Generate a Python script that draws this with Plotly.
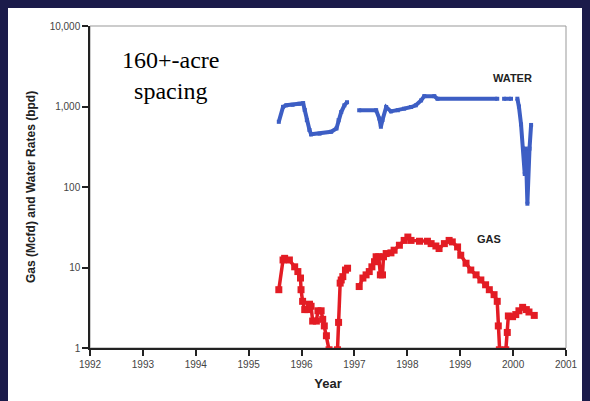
import plotly.graph_objects as go

# -------------------------------------------------
# Data
# -------------------------------------------------
WATER_YEAR = [
    1995.57, 1995.65, 1995.71, 1995.83, 1995.96, 1996.03, 1996.06, 1996.10,
    1996.15, 1996.18, 1996.34, 1996.56, 1996.66, 1996.70, 1996.75, 1996.81,
    1996.86, None,
    1997.09, 1997.41, 1997.47, 1997.50, 1997.53, 1997.60, 1997.69, 1997.82,
    1997.94, 1998.07, 1998.16, 1998.26, 1998.32, 1998.51, 1998.57, 1999.70,
    None,
    1999.83, 1999.96, None,
    2000.08, 2000.11, 2000.15, 2000.19, 2000.22, 2000.24, 2000.27, 2000.31,
    2000.34,
]
WATER_RATE = [
    645, 990, 1035, 1050, 1080, 1100, 905, 676,
    510, 451, 460, 486, 533, 676, 853, 1035,
    1130, None,
    898, 898, 710, 560, 680, 985, 870, 898,
    940, 985, 1035, 1190, 1345, 1345, 1247, 1247,
    None,
    1247, 1247, None,
    1250, 1000, 600, 300, 145, 300, 62, 300,
    590,
]

GAS_YEAR = [
    1995.57, 1995.65, 1995.68, 1995.77, 1995.87, 1995.93, 1995.98, 1995.99,
    1996.02, 1996.06, 1996.12, 1996.15, 1996.18, 1996.21, 1996.28, 1996.31,
    1996.37, 1996.40, 1996.43, 1996.47, 1996.52, 1996.55, 1996.64, 1996.68,
    1996.70, 1996.73, 1996.75, 1996.78, 1996.83, 1996.87, None,
    1997.09, 1997.16, 1997.22, 1997.28, 1997.33, 1997.38, 1997.41, 1997.46,
    1997.49, 1997.53, 1997.55, 1997.60, 1997.69, 1997.75, 1997.85, 1997.94,
    1998.01, 1998.07, 1998.23, 1998.38, 1998.45, 1998.54, 1998.60, 1998.70,
    1998.79, 1998.85, 1998.95, 1999.01, 1999.11, 1999.20, 1999.30, 1999.39,
    1999.48, 1999.55, 1999.64, 1999.70, 1999.72, 1999.74, 1999.76, 1999.84,
    1999.86, 1999.89, 1999.91, 1999.99, 2000.05, 2000.11, 2000.18, 2000.25,
    2000.30, 2000.40,
]
GAS_RATE = [
    5.3, 12.4, 13.0, 12.4, 10.2, 8.9, 7.4, 5.3,
    3.8, 3.0, 3.0, 3.5, 3.3, 2.16, 2.16, 2.9,
    2.9, 2.27, 1.88, 1.42, 0.95, 0.6, 0.6, 0.95,
    2.08, 6.4, 7.0, 7.7, 9.3, 9.8, None,
    5.8, 7.4, 8.1, 8.9, 10.2, 11.8, 13.6, 13.6,
    8.1, 8.1, 13.6, 14.9, 15.2, 16.4, 18.9, 21.7,
    23.9, 21.7, 21.2, 21.2, 19.8, 18.5, 17.2, 19.8,
    21.7, 20.8, 18.0, 14.2, 11.3, 9.3, 8.1, 7.0,
    6.1, 5.3, 4.6, 3.8, 1.88, 0.95, 0.6, 0.6,
    0.95, 1.56, 2.5, 2.45, 2.6, 2.9, 3.2, 3.0,
    2.8, 2.54,
]

YEAR_TICKS = list(range(1992, 2002))
RATE_TICKS = [1, 10, 100, 1000, 10000]
RATE_TICK_TEXT = ["1", "10", "100", "1,000", "10,000"]

# -------------------------------------------------
# Figure
# -------------------------------------------------
BLUE = "#3d5ec4"
RED = "#e31c24"
NAVY = "#1b1b4a"
SANS = "Liberation Sans, Arial, sans-serif"

fig = go.Figure()

fig.add_trace(go.Scatter(
    x=WATER_YEAR, y=WATER_RATE, mode="lines+markers",
    line=dict(color=BLUE, width=4),
    marker=dict(color=BLUE, size=4, symbol="square"),
    showlegend=False,
))
fig.add_trace(go.Scatter(
    x=GAS_YEAR, y=GAS_RATE, mode="lines+markers",
    line=dict(color=RED, width=3.5),
    marker=dict(color=RED, size=7, symbol="square"),
    showlegend=False,
))

axis_common = dict(
    showgrid=False, zeroline=False, showline=True,
    linecolor="#222", linewidth=1.5,
    ticks="outside", ticklen=6, tickwidth=1.5, tickcolor="#222",
    tickfont=dict(family=SANS, size=10, color="#444"),
)

fig.update_xaxes(
    range=[1992, 2001], tickvals=YEAR_TICKS,
    title=dict(text="Year", standoff=10,
               font=dict(family=SANS, size=13, color="#222", weight="bold")),
    **axis_common,
)
fig.update_yaxes(
    type="log", range=[0, 4], tickvals=RATE_TICKS, ticktext=RATE_TICK_TEXT,
    title=dict(text="Gas (Mcfd) and Water Rates (bpd)", standoff=11,
               font=dict(family=SANS, size=12, color="#222", weight="bold")),
    **axis_common,
)

# the page body keeps its 8px margin, so the figure is sized to fit the window
fig.update_layout(
    width=582, height=393,
    margin=dict(l=82, r=23, t=15, b=52),
    paper_bgcolor="white",
    plot_bgcolor="white",
    shapes=[
        # dark slide strip on the right
        dict(type="rect", xref="paper", yref="paper",
             x0=1.038, x1=1.2, y0=-0.3, y1=1.2,
             fillcolor=NAVY, line=dict(width=0), layer="below"),
        # light frame on top / right
        dict(type="rect", xref="paper", yref="paper",
             x0=0, x1=1, y0=0, y1=1,
             line=dict(color="#999", width=1), layer="below"),
    ],
    annotations=[
        dict(text="160+-acre<br>spacing", xref="paper", yref="paper",
             x=0.170, y=0.845, xanchor="center", yanchor="middle",
             showarrow=False,
             font=dict(family="Liberation Serif, Times New Roman, serif",
                       size=24, color="black")),
        dict(text="WATER", xref="paper", yref="paper",
             x=0.887, y=0.837, xanchor="center", yanchor="middle",
             showarrow=False,
             font=dict(family=SANS, size=11, color="#222", weight="bold")),
        dict(text="GAS", xref="paper", yref="paper",
             x=0.839, y=0.34, xanchor="center", yanchor="middle",
             showarrow=False,
             font=dict(family=SANS, size=11, color="#222", weight="bold")),
    ],
)

fig.write_html(
    "out.html",
    post_script="document.body.style.background = '%s';" % NAVY,
)
